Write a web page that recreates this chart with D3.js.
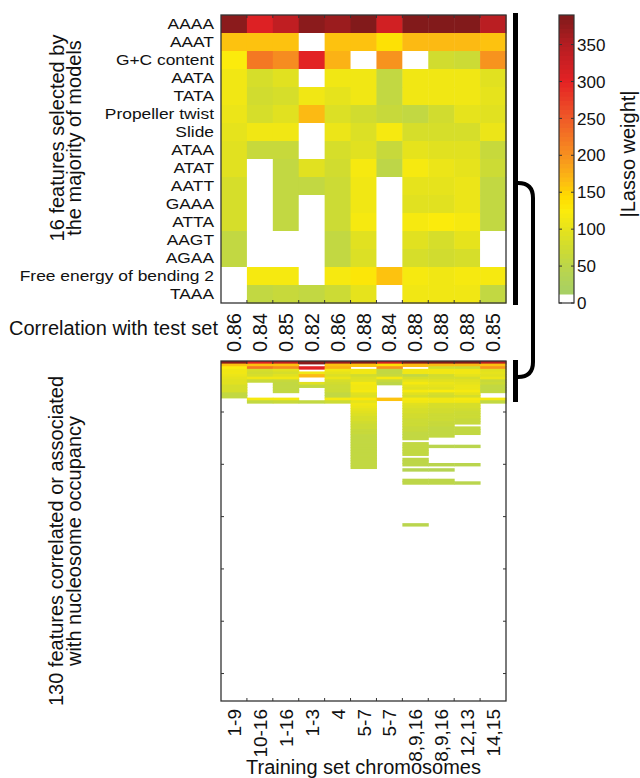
<!DOCTYPE html>
<html><head><meta charset="utf-8">
<script src="https://cdn.jsdelivr.net/npm/d3@7"></script>
<style>
body{margin:0;background:#fff}
svg{display:block;font-family:Arial,"Liberation Sans",Helvetica,sans-serif}
</style>
</head><body><svg id="chart" width="640" height="778"></svg>
<script>
// ---------------- data ----------------
const trainingSets = ["1-9","10-16","1-16","1-3","4","5-7","5-7","8,9,16","8,9,16","12,13","14,15"];
const correlations = ["0.86","0.84","0.85","0.82","0.86","0.88","0.84","0.88","0.88","0.88","0.85"];
const features = ["AAAA","AAAT","G+C content","AATA","TATA","Propeller twist","Slide","ATAA",
  "ATAT","AATT","GAAA","ATTA","AAGT","AGAA","Free energy of bending 2","TAAA"];
// |Lasso weight| of the 16 majority features (rows) for each model (columns)
const topWeights = [
  [380,310,340,380,370,385,320,385,385,385,345],
  [160,160,160,  0,160,160,140,170,170,170,160],
  [125,225,205,300,175,  0,195,  0, 75, 70,200],
  [115, 85, 95,  0,110,115, 60,115,115,115, 95],
  [110, 75, 80,115,100,110, 60,115,115,115,100],
  [105, 85, 95,165, 90, 75, 65, 60, 75,100, 95],
  [100,110,110,  0,105, 90,120, 80, 80, 80,105],
  [ 95, 65, 65,  0, 80, 95, 65,100, 95, 95, 65],
  [ 95,  0, 60, 95, 75,120, 50,120,105,100, 70],
  [ 85,  0, 55, 55, 70,110,  0,100,100,105, 60],
  [ 85,  0, 60,  0, 70,110,  0, 95, 95,105, 60],
  [ 85,  0, 60,  0, 70,120,  0,120,125,120, 60],
  [ 60,  0,  0,  0, 55, 95,  0, 95, 85,100,  0],
  [ 60,  0,  0,  0, 55, 90,  0, 85, 75, 80,  0],
  [  0,120,120,  0,120,130,160,120,115,120,120],
  [  0, 60, 65, 55, 70,100,  0,110,110,110, 60]
];
// weights of further features 17..63 of the 130 (features 64..130 were never selected)
const extraWeights = [
  [0,0,0,0,0,110,0,95,85,85,0],
  [0,0,0,0,0,105,0,90,80,80,0],
  [0,0,0,0,0,100,0,85,78,75,0],
  [0,0,0,0,0, 95,0,80,75,72,0],
  [0,0,0,0,0, 90,0,78,72,70,0],
  [0,0,0,0,0, 85,0,75,70,68,0],
  [0,0,0,0,0, 80,0,72,68,65,0],
  [0,0,0,0,0, 75,0,70,65,62,0],
  [0,0,0,0,0, 70,0,68,62, 0,0],
  [0,0,0,0,0, 68,0,65,60,58,0],
  [0,0,0,0,0, 65,0,62,58,56,0],
  [0,0,0,0,0, 62,0,60,56,55,0],
  [0,0,0,0,0, 60,0,58,55, 0,0],
  [0,0,0,0,0, 58,0,56, 0, 0,0],
  [0,0,0,0,0, 57,0, 0, 0, 0,0],
  [0,0,0,0,0, 56,0,55, 0, 0,0],
  [0,0,0,0,0, 55,0,55,45,45,0],
  [0,0,0,0,0, 55,0,55, 0, 0,0],
  [0,0,0,0,0, 55,0,55, 0, 0,0],
  [0,0,0,0,0, 55,0,55, 0, 0,0],
  [0,0,0,0,0, 55,0, 0, 0, 0,0],
  [0,0,0,0,0, 55,0,52, 0, 0,0],
  [0,0,0,0,0, 55,0,52, 0, 0,0],
  [0,0,0,0,0, 55,0,52,45,45,0],
  [0,0,0,0,0, 55,0, 0, 0, 0,0],
  [0,0,0,0,0,  0,0,42,42, 0,0],
  [0,0,0,0,0,  0,0, 0, 0, 0,0],
  [0,0,0,0,0,  0,0, 0, 0, 0,0],
  [0,0,0,0,0,  0,0, 0, 0, 0,0],
  [0,0,0,0,0,  0,0,52,52, 0,0],
  [0,0,0,0,0,  0,0,50,50,45,0],
  [0,0,0,0,0,  0,0, 0, 0, 0,0],
  [0,0,0,0,0,  0,0, 0, 0, 0,0],
  [0,0,0,0,0,  0,0, 0, 0, 0,0],
  [0,0,0,0,0,  0,0, 0, 0, 0,0],
  [0,0,0,0,0,  0,0, 0, 0, 0,0],
  [0,0,0,0,0,  0,0, 0, 0, 0,0],
  [0,0,0,0,0,  0,0, 0, 0, 0,0],
  [0,0,0,0,0,  0,0, 0, 0, 0,0],
  [0,0,0,0,0,  0,0, 0, 0, 0,0],
  [0,0,0,0,0,  0,0, 0, 0, 0,0],
  [0,0,0,0,0,  0,0, 0, 0, 0,0],
  [0,0,0,0,0,  0,0, 0, 0, 0,0],
  [0,0,0,0,0,  0,0, 0, 0, 0,0],
  [0,0,0,0,0,  0,0, 0, 0, 0,0],
  [0,0,0,0,0,  0,0, 0, 0, 0,0],
  [0,0,0,0,0,  0,0,45, 0, 0,0]
];
const totalFeatures = 130;
const featureTicks = [20,40,60,80,100,120];
const colorbarTicks = [0,50,100,150,200,250,300,350];
const weightMax = 390;
const cmapStops = [0, 10, 12, 50, 75, 100, 125, 145, 165, 200, 250, 300, 350, 390];
const cmapColors = ["#ffffff","#ffffff","#a6cf66","#bcd64a","#d0dc30","#e6e31c","#fbeb0c","#ffdb00","#fcbd12","#f7911f","#f05a28","#e42224","#b51d22","#7e1a1a"];

// ---------------- colour map (64 levels) ----------------
const cont = d3.scaleLinear().domain(cmapStops).range(cmapColors).clamp(true);
const nLevels = 64;
function color(v){
  if (v <= 0) return "#ffffff";
  const lvl = Math.min(nLevels-1, Math.floor(v / weightMax * nLevels));
  return cont((lvl + 0.5) * weightMax / nLevels);
}

const svg = d3.select("#chart");

// ---------------- top heatmap ----------------
const X0 = 221, X1 = 506;
const xBand = d3.scaleBand().domain(d3.range(trainingSets.length)).range([X0, X1]);
const yTop = d3.scaleBand().domain(d3.range(features.length)).range([15, 303]);

const gTop = svg.append("g");
topWeights.forEach((row, r) => row.forEach((v, c) => {
  gTop.append("rect").attr("x", xBand(c)).attr("y", yTop(r))
    .attr("width", xBand.bandwidth()+0.5).attr("height", yTop.bandwidth()+0.5)
    .attr("fill", color(v));
}));

function frame(y0, y1){
  const g = svg.append("g");
  g.append("rect").attr("x", X0).attr("y", y0).attr("width", X1-X0).attr("height", y1-y0)
    .attr("fill","none").attr("stroke","#333").attr("stroke-width",1.3);
  d3.range(1, trainingSets.length).forEach(i => {
    const x = xBand(i);
    g.append("line").attr("x1",x).attr("x2",x).attr("y1",y0).attr("y2",y0+3).attr("stroke","#333");
    g.append("line").attr("x1",x).attr("x2",x).attr("y1",y1).attr("y2",y1-3).attr("stroke","#333");
  });
  return g;
}
frame(15, 303);

// row labels
features.forEach((f, r) => {
  svg.append("text")
    .attr("transform", `translate(214,${yTop(r)+yTop.bandwidth()/2}) scale(1.2,1)`)
    .attr("text-anchor","end").attr("dy","0.36em")
    .attr("font-size",14.5).attr("fill","#111").text(f);
});

// correlation labels
svg.append("text").attr("x",218).attr("y",335).attr("text-anchor","end")
  .attr("font-size",20).attr("fill","#111").text("Correlation with test set");
correlations.forEach((c, i) => {
  svg.append("text")
    .attr("transform", `translate(${xBand(i)+xBand.bandwidth()/2+7},313) rotate(-90)`)
    .attr("text-anchor","end").attr("font-size",20).attr("fill","#111").text(c);
});

// ---------------- bottom heatmap ----------------
const allRows = topWeights.concat(extraWeights);
const yBot = d3.scaleBand().domain(d3.range(totalFeatures)).range([361, 701]);
const yBotLin = d3.scaleLinear().domain([0.5, totalFeatures+0.5]).range([361, 701]);
const gBot = svg.append("g");
allRows.forEach((row, r) => row.forEach((v, c) => {
  if (v <= 0) return;
  gBot.append("rect").attr("x", xBand(c)).attr("y", yBot(r))
    .attr("width", xBand.bandwidth()+0.5).attr("height", yBot.bandwidth()+0.8)
    .attr("fill", color(v));
}));
const fb = frame(361, 701);
featureTicks.forEach(t => {
  const y = yBotLin(t);
  fb.append("line").attr("x1",X0).attr("x2",X0+3).attr("y1",y).attr("y2",y).attr("stroke","#333");
  fb.append("line").attr("x1",X1).attr("x2",X1-3).attr("y1",y).attr("y2",y).attr("stroke","#333");
});

// column labels
trainingSets.forEach((s, i) => {
  svg.append("text")
    .attr("transform", `translate(${xBand(i)+xBand.bandwidth()/2+7},709) rotate(-90)`)
    .attr("text-anchor","end").attr("font-size",19).attr("fill","#111").text(s);
});
svg.append("text").attr("x",(X0+X1)/2).attr("y",774).attr("text-anchor","middle")
  .attr("font-size",20).attr("fill","#111").text("Training set chromosomes");

// y titles
function vTitle(lines, cy, xs){
  lines.forEach((l, i) => {
    svg.append("text").attr("transform", `translate(${xs[i]},${cy}) rotate(-90)`)
      .attr("text-anchor","middle").attr("font-size",20).attr("fill","#111").text(l);
  });
}
vTitle(["16 features selected by","the majority of models"], 138, [64, 81]);
vTitle(["130 features correlated or associated","with nucleosome occupancy"], 541, [63, 81]);

// ---------------- colour bar ----------------
const cbY = d3.scaleLinear().domain([0, weightMax]).range([303, 15]);
const cb = svg.append("g");
d3.range(nLevels).forEach(l => {
  const v0 = l * weightMax / nLevels, v1 = (l+1) * weightMax / nLevels;
  cb.append("rect").attr("x",559).attr("y",cbY(v1)).attr("width",15)
    .attr("height",cbY(v0)-cbY(v1)+0.5).attr("fill", l < 2 ? "#ffffff" : color((v0+v1)/2));
});
cb.append("rect").attr("x",559).attr("y",15).attr("width",15).attr("height",288)
  .attr("fill","none").attr("stroke","#333").attr("stroke-width",1.2);
colorbarTicks.forEach(t => {
  const y = cbY(t);
  cb.append("line").attr("x1",574).attr("x2",571).attr("y1",y).attr("y2",y).attr("stroke","#333");
  cb.append("line").attr("x1",559).attr("x2",562).attr("y1",y).attr("y2",y).attr("stroke","#333");
  cb.append("text").attr("x",577).attr("y",y).attr("dy","0.36em").attr("font-size",17)
    .attr("fill","#111").text(t);
});
svg.append("text").attr("transform","translate(635,154) rotate(-90)")
  .attr("text-anchor","middle").attr("font-size",20).attr("fill","#111").text("|Lasso weight|");

// ---------------- brackets ----------------
svg.append("line").attr("x1",515.5).attr("x2",515.5).attr("y1",13).attr("y2",305)
  .attr("stroke","#000").attr("stroke-width",5);
svg.append("line").attr("x1",515.5).attr("x2",515.5).attr("y1",360).attr("y2",402)
  .attr("stroke","#000").attr("stroke-width",5);
svg.append("path").attr("d","M518,183 Q533,183 533,198 L533,362 Q533,377 518,377")
  .attr("fill","none").attr("stroke","#000").attr("stroke-width",4);
</script>
</body></html>
